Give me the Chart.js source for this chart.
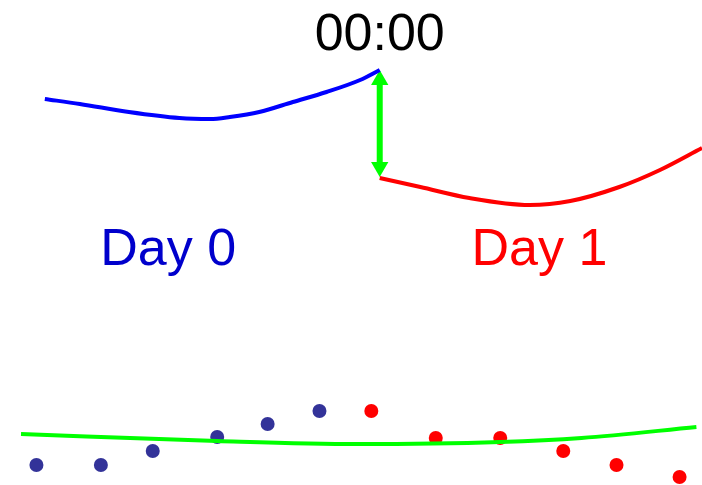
<!DOCTYPE html>
<html>
<head>
<meta charset="utf-8">
<script src="https://cdn.jsdelivr.net/npm/chart.js@4.4.1/dist/chart.umd.min.js"></script>
<style>
  html, body { margin: 0; padding: 0; background: #fff; }
  canvas { display: block; }
</style>
</head>
<body>
<canvas id="myChart" width="702" height="485"></canvas>
<script>
// x = hours relative to midnight (00:00), y = arbitrary level
var day0CurveX = [-23.9, -21.4, -17.9, -14.3, -12.1, -10.7, -8.6, -6.2, -3.8, -1.4, 0];
var day0CurveY = [38.6, 38.1, 37.3, 36.7, 36.6, 36.8, 37.3, 38.3, 39.3, 40.5, 41.5];

var day1CurveX = [0, 2.9, 6.4, 10.7, 13.6, 17.1, 20.0, 23.0];
var day1CurveY = [30.7, 29.8, 28.7, 28.0, 28.4, 29.8, 31.5, 33.7];

// the jump at midnight
var jumpX = [0, 0];
var jumpY = [40.5, 31.8];

var day0DotsX = [-24.5, -19.9, -16.2, -11.6, -8.0, -4.3];
var day0DotsY = [2.0, 2.0, 3.4, 4.8, 6.1, 7.4];

var day1DotsX = [-0.6, 4.0, 8.6, 13.1, 16.9, 21.4];
var day1DotsY = [7.4, 4.7, 4.7, 3.4, 2.0, 0.8];

var fitX = [-25.6, -11.6, -1.6, 8.6, 14.4, 22.6];
var fitY = [5.1, 4.4, 4.1, 4.3, 4.7, 5.8];

var labelText = ["00:00", "Day 0", "Day 1"];

function pts(xs, ys) {
    var out = [];
    for (var i = 0; i < xs.length; i++) {
        out.push({ x: xs[i], y: ys[i] });
    }
    return out;
}

// text labels, anchored in data units
var labelSpots = [
    { x: 0, y: 43.5, color: "#000000" },
    { x: -15.1, y: 22.0, color: "#0000cc" },
    { x: 11.4, y: 22.0, color: "#ff0000" }
];

var textPlugin = {
    id: "textLabels",
    afterDatasetsDraw: function (chart) {
        var ctx = chart.ctx;
        var xs = chart.scales.x, ys = chart.scales.y;
        ctx.save();
        ctx.font = "52px 'Liberation Sans', Arial, sans-serif";
        ctx.textAlign = "center";
        ctx.textBaseline = "alphabetic";
        for (var i = 0; i < labelText.length; i++) {
            ctx.fillStyle = labelSpots[i].color;
            ctx.fillText(labelText[i], xs.getPixelForValue(labelSpots[i].x), ys.getPixelForValue(labelSpots[i].y));
        }
        ctx.restore();
    }
};

var ctx = document.getElementById('myChart').getContext('2d');
var myChart = new Chart(ctx, {
    type: 'scatter',
    data: {
        datasets: [
            {
                data: pts(day0CurveX, day0CurveY),
                showLine: true,
                borderColor: '#0000ff',
                borderWidth: 4,
                pointRadius: 0,
                cubicInterpolationMode: 'monotone',
                fill: false
            },
            {
                data: pts(day1CurveX, day1CurveY),
                showLine: true,
                borderColor: '#ff0000',
                borderWidth: 4,
                pointRadius: 0,
                cubicInterpolationMode: 'monotone',
                fill: false
            },
            {
                data: pts(jumpX, jumpY),
                showLine: true,
                borderColor: '#00ff00',
                backgroundColor: '#00ff00',
                borderWidth: 6,
                pointStyle: 'triangle',
                pointRadius: 10,
                pointBorderWidth: 0,
                rotation: [0, 180],
                fill: false
            },
            {
                data: pts(fitX, fitY),
                showLine: true,
                borderColor: '#00ff00',
                borderWidth: 4,
                pointRadius: 0,
                cubicInterpolationMode: 'monotone',
                fill: false
            },
            {
                data: pts(day0DotsX, day0DotsY),
                backgroundColor: '#333399',
                borderWidth: 0,
                pointRadius: 7
            },
            {
                data: pts(day1DotsX, day1DotsY),
                backgroundColor: '#ff0000',
                borderWidth: 0,
                pointRadius: 7
            }
        ]
    },
    options: {
        responsive: false,
        animation: false,
        devicePixelRatio: 1,
        layout: { padding: 0, autoPadding: false },
        clip: false,
        plugins: {
            legend: { display: false },
            tooltip: { enabled: false },
            title: { display: false }
        },
        scales: {
            x: { type: 'linear', display: false, min: -27.1, max: 23.0 },
            y: { type: 'linear', display: false, min: 0, max: 48.5 }
        }
    },
    plugins: [textPlugin]
});
</script>
</body>
</html>
